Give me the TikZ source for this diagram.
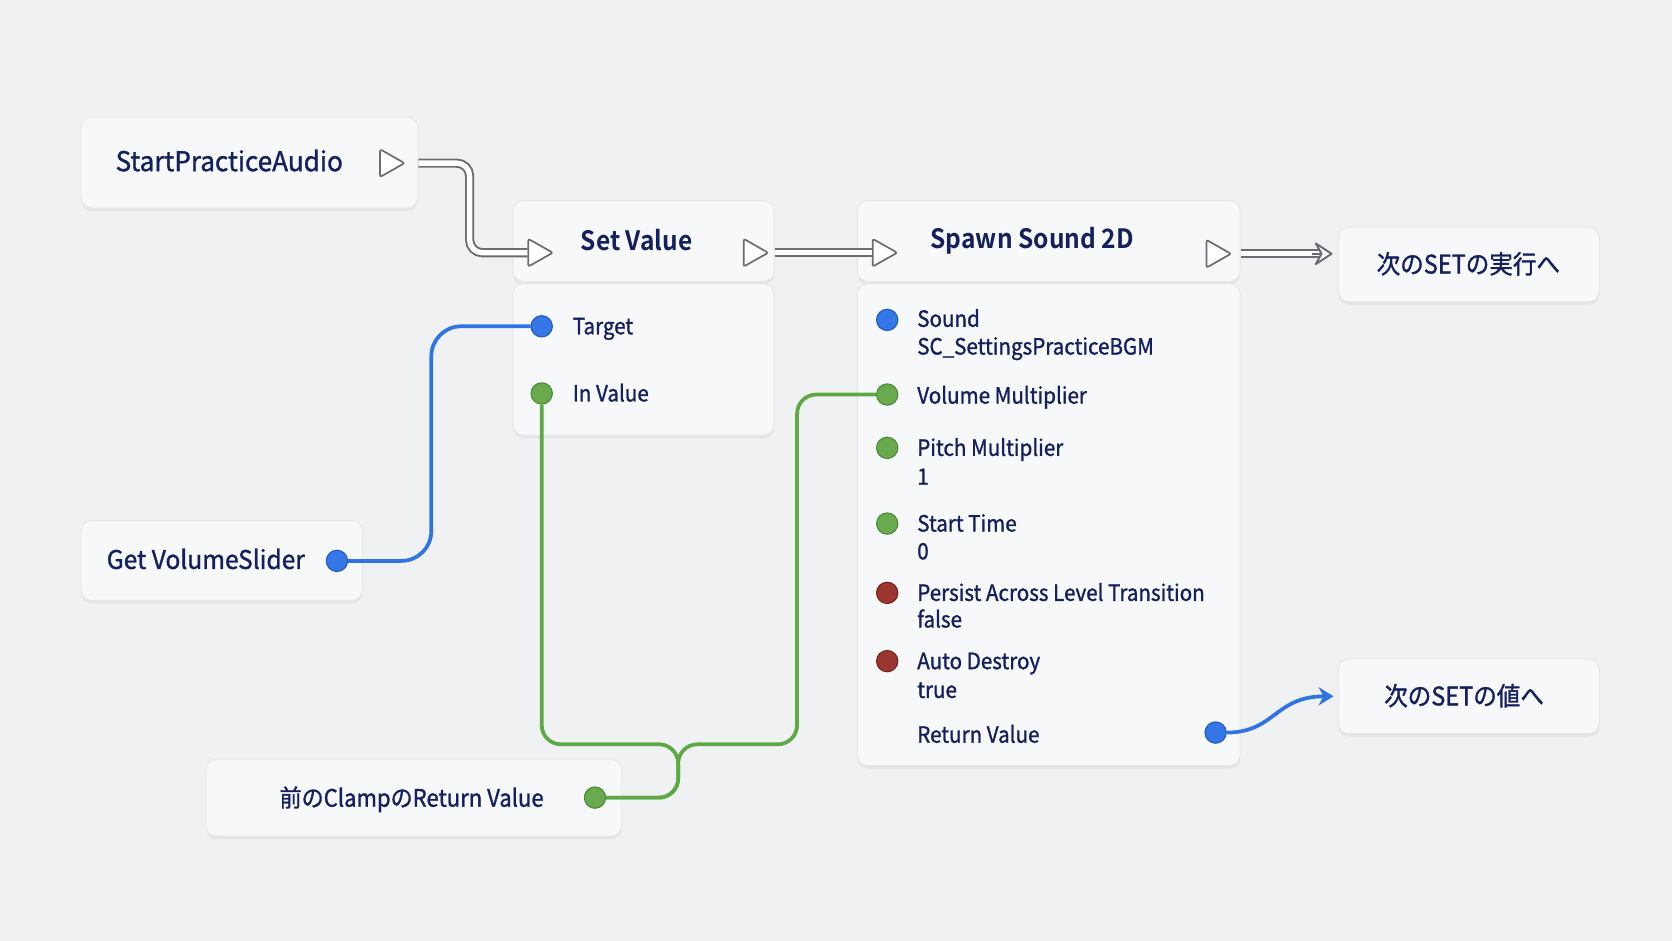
\documentclass[tikz,border=0pt]{standalone}
\usepackage{fontspec}
\setmainfont{Noto Sans CJK JP}[FakeStretch=0.92]
\newfontfamily\medfont{Noto Sans CJK JP}[FakeStretch=0.92, FakeBold=1.2]
\newfontfamily\wmedfont{Noto Sans CJK JP}[FakeStretch=0.96, FakeBold=1.2]
\newfontfamily\titlefont{Noto Sans CJK JP Bold}[FakeStretch=0.92]
\usetikzlibrary{shapes.geometric, arrows.meta, shadows, calc}

\definecolor{bgcol}{HTML}{F0F1F3}
\definecolor{boxfill}{HTML}{F7F8FA}
\definecolor{boxline}{HTML}{E4E6EA}
\definecolor{txtcol}{HTML}{15205E}
\definecolor{execgrey}{HTML}{6A6C73}
\definecolor{pinblue}{HTML}{3577E6}
\definecolor{pinblueD}{HTML}{1F5AC4}
\definecolor{wireblue}{HTML}{2F74E2}
\definecolor{pingreen}{HTML}{6AAA4E}
\definecolor{pingreenD}{HTML}{4A8A33}
\definecolor{wiregreen}{HTML}{5EA845}
\definecolor{pinred}{HTML}{9A3530}
\definecolor{pinredD}{HTML}{76221F}

\tikzset{
  box/.style={draw=boxline, line width=0.8pt, fill=boxfill, rounded corners=10pt,
    drop shadow={shadow xshift=0pt, shadow yshift=-3pt, opacity=0.10, fill=black!50}},
  boxlbl/.style={text=txtcol, text height=19pt, text depth=4pt, font=\wmedfont\fontsize{25.5}{30}\selectfont},
  jplbl/.style={text=txtcol, text height=19pt, text depth=4pt, font=\medfont\fontsize{24}{28}\selectfont},
  titlelbl/.style={text=txtcol, text height=21pt, text depth=4pt, font=\titlefont\fontsize{25}{30}\selectfont},
  pinlbl/.style={text=txtcol, anchor=west, inner sep=0pt, text height=18pt, text depth=3pt,
    font=\medfont\fontsize{21}{25}\selectfont},
  execpin/.style={isosceles triangle, isosceles triangle apex angle=62, isosceles triangle stretches,
    draw=execgrey, fill=white, line width=1.6pt, rounded corners=2pt, inner sep=0pt,
    minimum width=26pt, minimum height=23pt},
  datapin/.style={circle, inner sep=0pt, minimum size=20pt, line width=1pt},
  bluepin/.style={datapin, fill=pinblue, draw=pinblueD},
  greenpin/.style={datapin, fill=pingreen, draw=pingreenD},
  redpin/.style={datapin, fill=pinred, draw=pinredD},
  execwire/.style={draw=execgrey, line width=1.8pt, double=white, double distance=5pt, rounded corners=12pt},
  exectip/.style={draw=execgrey, line width=1.8pt, -{Stealth[open, round, fill=white, length=19pt, width=25pt, inset=7pt]}},
  bluewire/.style={draw=wireblue, line width=3.5pt, rounded corners=28pt},
  greenwire/.style={draw=wiregreen, line width=3.5pt, rounded corners=18pt},
}

\begin{document}
\begin{tikzpicture}[x=1pt, y=-1pt]
\fill[bgcol] (0,0) rectangle (1568,882);
\useasboundingbox (0,0) rectangle (1568,882);

% event node
\node[box, minimum width=316pt, minimum height=85pt] (spa) at (234,152.5) {};
\node[boxlbl] (spalbl) at (215,153) {StartPracticeAudio};
\node[execpin] (spaout) at (364,153) {};

% Set Value
\node[box, minimum width=245pt, minimum height=76pt] (setvhead) at (603.5,226) {};
\node[box, minimum width=245pt, minimum height=142pt] (setvbody) at (603.5,337) {};
\node[titlelbl] (setvlbl) at (597,226) {Set Value};
\node[execpin] (setvin) at (503,237) {};
\node[execpin] (setvout) at (705,237) {};
\node[bluepin] (tgt) at (508,306) {};
\node[pinlbl] (tgtlbl) at (537,306) {Target};
\node[greenpin] (inv) at (508,369) {};
\node[pinlbl] (invlbl) at (537,369) {In Value};

% Spawn Sound 2D
\node[box, minimum width=359pt, minimum height=76pt] (spawnhead) at (983.5,226) {};
\node[box, minimum width=359pt, minimum height=452pt] (spawnbody) at (983.5,492) {};
\node[titlelbl] (spawnlbl) at (968,225) {Spawn Sound 2D};
\node[execpin] (spawnin) at (826,237) {};
\node[execpin] (spawnout) at (1139,238) {};
\node[bluepin] (snd) at (832,300) {};
\node[pinlbl] (sndlbl) at (860,299) {Sound};
\node[pinlbl] (sndval) at (860,325) {SC\_SettingsPracticeBGM};
\node[greenpin] (vm) at (832,370) {};
\node[pinlbl] (vmlbl) at (860,371) {Volume Multiplier};
\node[greenpin] (pm) at (832,420) {};
\node[pinlbl] (pmlbl) at (860,420) {Pitch Multiplier};
\node[pinlbl] (pmval) at (860,447) {1};
\node[greenpin] (st) at (832,491) {};
\node[pinlbl] (stlbl) at (860,491) {Start Time};
\node[pinlbl] (stval) at (860,517) {0};
\node[redpin] (pal) at (832,556) {};
\node[pinlbl] (pallbl) at (860,556) {Persist Across Level Transition};
\node[pinlbl] (palval) at (860,581) {false};
\node[redpin] (ad) at (832,620) {};
\node[pinlbl] (adlbl) at (860,620) {Auto Destroy};
\node[pinlbl] (adval) at (860,647) {true};
\node[pinlbl] (rvlbl) at (860,689) {Return Value};
\node[bluepin] (rv) at (1140,687) {};

% targets on the right
\node[box, minimum width=245pt, minimum height=70pt] (nextexec) at (1377.5,248) {};
\node[jplbl] (nextexeclbl) at (1377,249) {次のSETの実行へ};
\node[box, minimum width=245pt, minimum height=70pt] (nextval) at (1377.5,653) {};
\node[jplbl] (nextvallbl) at (1373,654) {次のSETの値へ};

% getter nodes
\node[box, minimum width=264pt, minimum height=75pt] (getvs) at (208,525.5) {};
\node[boxlbl, font=\wmedfont\fontsize{24}{28}\selectfont] (getvslbl) at (193,526) {Get VolumeSlider};
\node[bluepin] (gvs) at (316,526) {};
\node[box, minimum width=390pt, minimum height=72pt] (clamp) at (388,748) {};
\node[jplbl, font=\medfont\fontsize{22.5}{27}\selectfont] (clamplbl) at (386,749) {前のClampのReturn Value};
\node[greenpin] (cpin) at (558,748) {};

% exec wires
\draw[execwire] (spa.east |- spaout) -- ++(48,0) |- (setvin.west);
\draw[execwire] (setvhead.east |- setvout) -- (spawnin.west);
\draw[execwire] (spawnhead.east |- spawnout) -- ([xshift=-18pt]nextexec.west |- spawnout);
\draw[exectip] ([xshift=-24pt]nextexec.west |- spawnout) -- ([xshift=-5pt]nextexec.west |- spawnout);

% data wires
\draw[bluewire] (tgt.west) -| ([xshift=78pt]gvs.east) -- (gvs.east);
\coordinate (split) at (636,698);
\draw[greenwire] (cpin.east) -| (split) -| (inv.south);
\draw[greenwire] (cpin.east) -| (split) -| ([xshift=-74pt]vm.west) -- (vm.west);
\draw[bluewire, -{Stealth[length=14pt, width=17pt]}] (rv.east) .. controls +(45,0) and +(-55,0) .. ([xshift=-4pt]nextval.west);
\end{tikzpicture}
\end{document}
